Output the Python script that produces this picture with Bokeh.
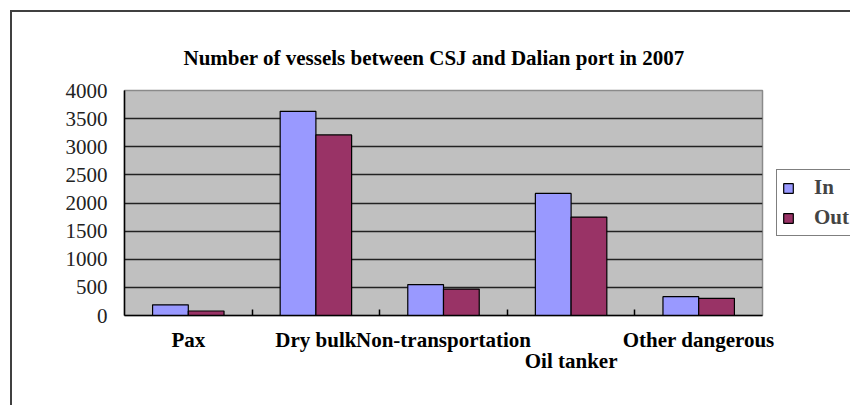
from bokeh.plotting import figure
from bokeh.models import (ColumnDataSource, FactorRange, Range1d, LinearAxis, CategoricalAxis,
                          FixedTicker, Legend, LegendItem, CategoricalTicker, InlineStyleSheet,
                          CustomJSTickFormatter)
from bokeh.transform import dodge
from bokeh.embed import file_html
from bokeh.resources import INLINE

categories = ["Pax", "Dry bulk", "Non-transportation", "Oil tanker", "Other dangerous"]
vessels_in = [190, 3630, 550, 2170, 335]
vessels_out = [80, 3210, 470, 1750, 305]
y_ticks = [0, 500, 1000, 1500, 2000, 2500, 3000, 3500, 4000]
title_text = "Number of vessels between CSJ and Dalian port in 2007"
lower_row_labels = ["Oil tanker"]   # labels Excel pushed to a second row

SERIF = "Liberation Serif"

src = ColumnDataSource(dict(cat=categories, vin=vessels_in, vout=vessels_out))

p = figure(frame_width=638, frame_height=225, x_range=FactorRange(*categories),
           y_range=Range1d(0, 4000), title=title_text,
           output_backend="svg", toolbar_location=None, x_axis_location=None,
           min_border_left=124, min_border_right=88, min_border_top=90, min_border_bottom=80)
p.background_fill_color = "#C0C0C0"
p.border_fill_color = "white"
p.outline_line_color = "#8a8a8a"
p.outline_line_width = 1.5

# title
p.title.text_font = SERIF
p.title.text_font_size = "21px"
p.title.text_font_style = "bold"
p.title.text_color = "black"
p.title.align = "left"
p.title.offset = 59
p.title.standoff = 41

# bars
r_in = p.vbar(x=dodge("cat", -0.14, range=p.x_range), top="vin", width=0.28, source=src,
              fill_color="#9999FF", line_color="black", line_width=1.2)
r_out = p.vbar(x=dodge("cat", 0.14, range=p.x_range), top="vout", width=0.28, source=src,
               fill_color="#993366", line_color="black", line_width=1.2)

# y axis
ya = p.yaxis[0]
ya.ticker = FixedTicker(ticks=y_ticks)
ya.major_tick_out = 0
ya.major_tick_in = 0
ya.minor_tick_line_color = None
ya.axis_line_color = "black"
ya.axis_line_width = 1.5
ya.major_label_text_font = SERIF
ya.major_label_text_font_size = "21px"
ya.major_label_text_color = "#222222"
ya.major_label_standoff = 17

p.ygrid.ticker = FixedTicker(ticks=y_ticks)
p.ygrid.grid_line_color = "#222222"
p.ygrid.grid_line_width = 1.5
p.xgrid.grid_line_color = None

# boundary tick axis (category separators, in synthetic category coordinates)
sep_ticks = list(range(1, len(categories)))
sep_axis = LinearAxis(ticker=FixedTicker(ticks=sep_ticks),
                      major_tick_in=6, major_tick_out=0, minor_tick_line_color=None,
                      major_label_overrides={t: "" for t in sep_ticks}, major_label_standoff=0,
                      axis_line_color="black", axis_line_width=1.5,
                      major_tick_line_color="black", major_tick_line_width=1.5)
p.add_layout(sep_axis, "below")

label_style = dict(axis_line_color=None, major_tick_line_color=None, minor_tick_line_color=None,
                   major_tick_in=0, major_tick_out=0,
                   major_label_text_font=SERIF, major_label_text_font_size="21px",
                   major_label_text_font_style="bold", major_label_text_color="black")

# first row of category labels
upper_fmt = CustomJSTickFormatter(args=dict(lower=lower_row_labels),
                                  code="return lower.includes(tick) ? '' : tick;")
cat_axis = CategoricalAxis(ticker=CategoricalTicker(), formatter=upper_fmt,
                           major_label_standoff=12, **label_style)
p.add_layout(cat_axis, "below")

# second (staggered) row of category labels
lower_fmt = CustomJSTickFormatter(args=dict(lower=lower_row_labels),
                                  code="return lower.includes(tick) ? tick : '';")
cat_axis2 = CategoricalAxis(ticker=CategoricalTicker(), formatter=lower_fmt,
                            major_label_standoff=-6, **label_style)
p.add_layout(cat_axis2, "below")

# legend
legend = Legend(items=[LegendItem(label="In", renderers=[r_in]),
                       LegendItem(label="Out", renderers=[r_out])],
                location=(14, 79), orientation="vertical",
                label_text_font=SERIF, label_text_font_size="21px", label_text_font_style="bold",
                glyph_width=12, glyph_height=12, label_height=20, label_standoff=20,
                padding=5, spacing=5, margin=0,
                border_line_color="black", border_line_width=1.2,
                background_fill_color="white", background_fill_alpha=1.0)
p.add_layout(legend, "right")

# outer chart frame (left and top edges visible, the rest runs off the page)
p.stylesheets = [InlineStyleSheet(css="""
:host { position: relative; }
:host::after {
  content: ""; position: absolute; left: 10px; top: 10px; width: 2000px; height: 2000px;
  border: 2px solid #404040; pointer-events: none; z-index: 10;
}
""")]

open("out.html", "w").write(file_html(p, INLINE))
